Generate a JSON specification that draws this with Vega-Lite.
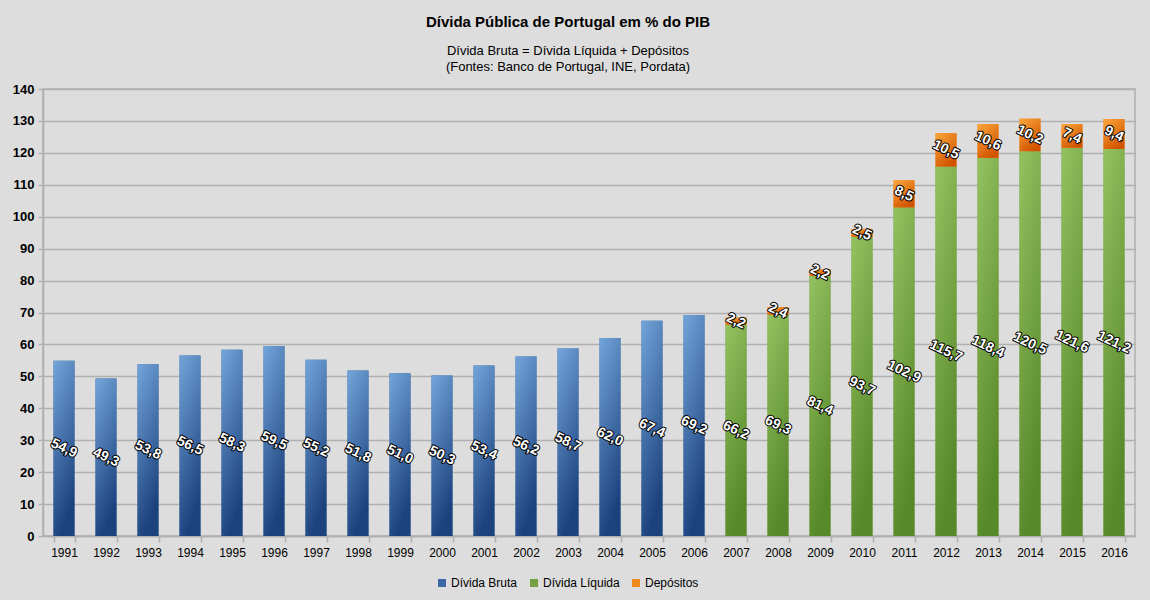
{
  "$schema": "https://vega.github.io/schema/vega-lite/v6.json",
  "width": 1092,
  "height": 447,
  "autosize": {"type": "none"},
  "padding": {"left": 43, "top": 89, "right": 15, "bottom": 64},
  "background": "#dddddd",
  "config": {
    "locale": {"number": {"decimal": ",", "thousands": ".", "grouping": [3], "currency": ["", " €"]}},
    "view": {"stroke": "#b0b0b0", "strokeWidth": 1.5},
    "font": "Liberation Sans",
    "axisY": {
      "title": null,
      "labelOverlap": false,
      "labelFont": "Liberation Sans",
      "labelFontSize": 13,
      "labelFontWeight": "bold",
      "labelColor": "#000000",
      "labelPadding": 4,
      "gridColor": "#b0b0b0",
      "gridWidth": 1.5,
      "tickColor": "#b0b0b0",
      "tickWidth": 1.5,
      "tickSize": 5,
      "domainColor": "#b0b0b0",
      "domainWidth": 1.5
    }
  },
  "title": {
    "text": "Dívida Pública de Portugal em % do PIB",
    "subtitle": ["Dívida Bruta = Dívida Líquida + Depósitos", "(Fontes: Banco de Portugal, INE, Pordata)"],
    "anchor": "middle",
    "dx": -21,
    "font": "Liberation Sans",
    "fontSize": 15,
    "fontWeight": "bold",
    "color": "#000000",
    "subtitleFont": "Liberation Sans",
    "subtitleFontSize": 13,
    "subtitleColor": "#000000",
    "subtitlePadding": 15,
    "subtitleLineHeight": 16,
    "offset": 9
  },
  "data": {
    "values": [
      {"year": "1991", "series": "Dívida Bruta", "value": 54.9},
      {"year": "1992", "series": "Dívida Bruta", "value": 49.3},
      {"year": "1993", "series": "Dívida Bruta", "value": 53.8},
      {"year": "1994", "series": "Dívida Bruta", "value": 56.5},
      {"year": "1995", "series": "Dívida Bruta", "value": 58.3},
      {"year": "1996", "series": "Dívida Bruta", "value": 59.5},
      {"year": "1997", "series": "Dívida Bruta", "value": 55.2},
      {"year": "1998", "series": "Dívida Bruta", "value": 51.8},
      {"year": "1999", "series": "Dívida Bruta", "value": 51.0},
      {"year": "2000", "series": "Dívida Bruta", "value": 50.3},
      {"year": "2001", "series": "Dívida Bruta", "value": 53.4},
      {"year": "2002", "series": "Dívida Bruta", "value": 56.2},
      {"year": "2003", "series": "Dívida Bruta", "value": 58.7},
      {"year": "2004", "series": "Dívida Bruta", "value": 62.0},
      {"year": "2005", "series": "Dívida Bruta", "value": 67.4},
      {"year": "2006", "series": "Dívida Bruta", "value": 69.2},
      {"year": "2007", "series": "Dívida Líquida", "value": 66.2},
      {"year": "2008", "series": "Dívida Líquida", "value": 69.3},
      {"year": "2009", "series": "Dívida Líquida", "value": 81.4},
      {"year": "2010", "series": "Dívida Líquida", "value": 93.7},
      {"year": "2011", "series": "Dívida Líquida", "value": 102.9},
      {"year": "2012", "series": "Dívida Líquida", "value": 115.7},
      {"year": "2013", "series": "Dívida Líquida", "value": 118.4},
      {"year": "2014", "series": "Dívida Líquida", "value": 120.5},
      {"year": "2015", "series": "Dívida Líquida", "value": 121.6},
      {"year": "2016", "series": "Dívida Líquida", "value": 121.2},
      {"year": "2007", "series": "Depósitos", "value": 2.2},
      {"year": "2008", "series": "Depósitos", "value": 2.4},
      {"year": "2009", "series": "Depósitos", "value": 2.2},
      {"year": "2010", "series": "Depósitos", "value": 2.5},
      {"year": "2011", "series": "Depósitos", "value": 8.5},
      {"year": "2012", "series": "Depósitos", "value": 10.5},
      {"year": "2013", "series": "Depósitos", "value": 10.6},
      {"year": "2014", "series": "Depósitos", "value": 10.2},
      {"year": "2015", "series": "Depósitos", "value": 7.4},
      {"year": "2016", "series": "Depósitos", "value": 9.4}
    ]
  },
  "transform": [
    {"stack": "value", "groupby": ["year"], "sort": [{"field": "series", "order": "descending"}], "as": ["y0", "y1"]},
    {"calculate": "(datum.y0 + datum.y1) / 2", "as": "mid"}
  ],
  "encoding": {
    "x": {
      "field": "year",
      "type": "ordinal",
      "scale": {"paddingInner": 0.5, "paddingOuter": 0.25},
      "axis": {
        "title": null,
        "labelAngle": 0,
        "labelFont": "Liberation Sans",
        "labelFontSize": 12,
        "labelColor": "#000000",
        "labelPadding": 5,
        "tickBand": "extent",
        "tickColor": "#b0b0b0",
        "tickWidth": 1.5,
        "tickSize": 6,
        "domainColor": "#b0b0b0",
        "domainWidth": 1.5
      }
    }
  },
  "layer": [
    {
      "mark": {"type": "bar"},
      "encoding": {
        "y": {"field": "y0", "type": "quantitative", "scale": {"domain": [0, 140], "nice": false}, "axis": {"title": null, "values": [0, 10, 20, 30, 40, 50, 60, 70, 80, 90, 100, 110, 120, 130, 140]}},
        "y2": {"field": "y1"},
        "color": {
          "field": "series",
          "type": "nominal",
          "scale": {"domain": ["Dívida Bruta", "Dívida Líquida", "Depósitos"], "range": ["#3d6aa6", "#74a043", "#ee8a1c"]},
          "legend": {
            "title": null,
            "orient": "none",
            "direction": "horizontal",
            "legendX": 393,
            "legendY": 488,
            "symbolType": "square",
            "symbolSize": 64,
            "symbolStrokeWidth": 0,
            "labelFont": "Liberation Sans",
            "labelFontSize": 12,
            "labelColor": "#000000",
            "labelOffset": 3,
            "columnPadding": 10
          }
        }
      }
    },
    {
      "transform": [{"filter": "datum.series === 'Dívida Bruta'"}],
      "mark": {
        "type": "bar",
        "fill": {"gradient": "linear", "x1": 0, "y1": 0, "x2": 0.3, "y2": 1, "stops": [{"offset": 0, "color": "#73a5da"}, {"offset": 1, "color": "#1c427e"}]}
      },
      "encoding": {
        "y": {"field": "y0", "type": "quantitative", "scale": {"domain": [0, 140], "nice": false}, "axis": {"title": null, "values": [0, 10, 20, 30, 40, 50, 60, 70, 80, 90, 100, 110, 120, 130, 140]}},
        "y2": {"field": "y1"}
      }
    },
    {
      "transform": [{"filter": "datum.series === 'Dívida Líquida'"}],
      "mark": {
        "type": "bar",
        "fill": {"gradient": "linear", "x1": 0, "y1": 0, "x2": 0.3, "y2": 1, "stops": [{"offset": 0, "color": "#95c261"}, {"offset": 1, "color": "#57882a"}]}
      },
      "encoding": {
        "y": {"field": "y0", "type": "quantitative", "scale": {"domain": [0, 140], "nice": false}, "axis": {"title": null, "values": [0, 10, 20, 30, 40, 50, 60, 70, 80, 90, 100, 110, 120, 130, 140]}},
        "y2": {"field": "y1"}
      }
    },
    {
      "transform": [{"filter": "datum.series === 'Depósitos'"}],
      "mark": {
        "type": "bar",
        "fill": {"gradient": "linear", "x1": 0, "y1": 0, "x2": 0.6, "y2": 1, "stops": [{"offset": 0, "color": "#fba73c"}, {"offset": 1, "color": "#d25400"}]}
      },
      "encoding": {
        "y": {"field": "y0", "type": "quantitative", "scale": {"domain": [0, 140], "nice": false}, "axis": {"title": null, "values": [0, 10, 20, 30, 40, 50, 60, 70, 80, 90, 100, 110, 120, 130, 140]}},
        "y2": {"field": "y1"}
      }
    },
    {
      "mark": {"type": "text", "angle": 25, "font": "Liberation Sans", "fontSize": 14, "fontWeight": "bold", "fill": "#000000", "stroke": "#000000", "strokeWidth": 2, "strokeJoin": "round"},
      "encoding": {
        "y": {"field": "mid", "type": "quantitative", "scale": {"domain": [0, 140], "nice": false}, "axis": {"title": null, "values": [0, 10, 20, 30, 40, 50, 60, 70, 80, 90, 100, 110, 120, 130, 140]}},
        "text": {"field": "value", "type": "quantitative", "format": ".1f"}
      }
    },
    {
      "mark": {"type": "text", "angle": 25, "font": "Liberation Sans", "fontSize": 14, "fontWeight": "bold", "fill": "#ffffff"},
      "encoding": {
        "y": {"field": "mid", "type": "quantitative", "scale": {"domain": [0, 140], "nice": false}, "axis": {"title": null, "values": [0, 10, 20, 30, 40, 50, 60, 70, 80, 90, 100, 110, 120, 130, 140]}},
        "text": {"field": "value", "type": "quantitative", "format": ".1f"}
      }
    }
  ]
}
